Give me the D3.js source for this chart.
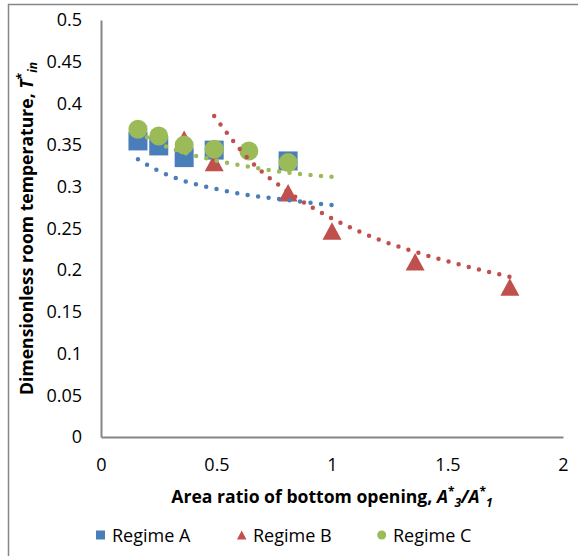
<!DOCTYPE html>
<html>
<head>
<meta charset="utf-8">
<script src="https://cdn.jsdelivr.net/npm/d3@7"></script>
<style>
  body { margin: 0; background: #fff; }
  text { font-family: "Open Sans", Lato, sans-serif; fill: #000; }
</style>
</head>
<body>
<div id="chart"></div>
<script>
// Measured points
const regimeAX = [0.16, 0.25, 0.36, 0.49, 0.81];
const regimeAY = [0.355, 0.349, 0.335, 0.344, 0.331];
const regimeBX = [0.36, 0.49, 0.81, 1.0, 1.36, 1.77];
const regimeBY = [0.357, 0.329, 0.293, 0.247, 0.210, 0.180];
const regimeCX = [0.16, 0.25, 0.36, 0.49, 0.64, 0.81];
const regimeCY = [0.369, 0.361, 0.350, 0.345, 0.343, 0.329];

// Dotted trend curves
const trendAX = [0.16, 0.25, 0.36, 0.49, 0.64, 0.81, 1.0];
const trendAY = [0.333, 0.319, 0.307, 0.298, 0.290, 0.284, 0.278];
const trendBX = [0.49, 0.64, 0.81, 1.0, 1.21, 1.36, 1.77];
const trendBY = [0.385, 0.333, 0.294, 0.262, 0.236, 0.222, 0.192];
const trendCX = [0.16, 0.25, 0.36, 0.49, 0.64, 0.81, 1.0];
const trendCY = [0.366, 0.352, 0.341, 0.332, 0.324, 0.317, 0.312];

const xTicks = [0, 0.5, 1, 1.5, 2];
const yTicks = [0, 0.05, 0.1, 0.15, 0.2, 0.25, 0.3, 0.35, 0.4, 0.45, 0.5];
const legendLabels = ["Regime A", "Regime B", "Regime C"];

const colA = "#4a7ebb", colB = "#c0504d", colC = "#9bbb59";

const W = 578, H = 556;
const margin = {top: 20, right: 15, bottom: 119, left: 101};
const width = W - margin.left - margin.right,
    height = H - margin.top - margin.bottom;

const root = d3.select("#chart")
    .append("svg")
    .attr("width", W)
    .attr("height", H);

// chart frame
root.append("rect")
    .attr("x", 8.5).attr("y", 4.5)
    .attr("width", 620).attr("height", 620)
    .attr("fill", "none")
    .attr("stroke", "#868686")
    .attr("stroke-width", 1.5);

const svg = root.append("g")
    .attr("transform", "translate(" + margin.left + "," + margin.top + ")");

const x = d3.scaleLinear().domain([0, 2]).range([0, width]);
const y = d3.scaleLinear().domain([0, 0.5]).range([height, 0]);

// X axis
const xAxis = svg.append("g")
    .attr("transform", "translate(0," + height + ")")
    .call(d3.axisBottom(x).tickValues(xTicks).tickSize(0).tickPadding(21)
        .tickFormat(d => String(d)));

// Y axis
const yAxis = svg.append("g")
    .call(d3.axisLeft(y).tickValues(yTicks).tickSize(0).tickPadding(19)
        .tickFormat(d => String(+d.toFixed(2))));

[xAxis, yAxis].forEach(function(a) {
    a.select(".domain").attr("stroke", "#868686").attr("stroke-width", 2);
    a.selectAll("text").style("font-size", "18px").attr("fill", "#000");
});

const zip = (xs, ys) => xs.map((v, i) => [v, ys[i]]);

// Markers: A then B then C
svg.append("g").selectAll("rect")
    .data(zip(regimeAX, regimeAY))
    .enter().append("rect")
    .attr("x", d => x(d[0]) - 9.5)
    .attr("y", d => y(d[1]) - 9.5)
    .attr("width", 19).attr("height", 19)
    .attr("fill", colA);

const tri = (w, h) => "M0," + (-h / 2) + "L" + (w / 2) + "," + (h / 2) + "L" + (-w / 2) + "," + (h / 2) + "Z";

svg.append("g").selectAll("path")
    .data(zip(regimeBX, regimeBY))
    .enter().append("path")
    .attr("d", tri(19, 17.5))
    .attr("transform", d => "translate(" + x(d[0]) + "," + y(d[1]) + ")")
    .attr("fill", colB);

svg.append("g").selectAll("circle")
    .data(zip(regimeCX, regimeCY))
    .enter().append("circle")
    .attr("cx", d => x(d[0]))
    .attr("cy", d => y(d[1]))
    .attr("r", 9.5)
    .attr("fill", colC);

// Dotted trend curves
const line = d3.line()
    .x(d => x(d[0]))
    .y(d => y(d[1]))
    .curve(d3.curveMonotoneX);

[[trendAX, trendAY, colA], [trendBX, trendBY, colB], [trendCX, trendCY, colC]].forEach(function(t) {
    const p = svg.append("path")
        .datum(zip(t[0], t[1]))
        .attr("d", line)
        .attr("fill", "none")
        .attr("stroke", t[2])
        .attr("stroke-width", 4.5)
        .attr("stroke-linecap", "round");
    // spread dots so one lands on each end
    const len = p.node().getTotalLength();
    const gap = (len - 0.5) / Math.round(len / 10.6);
    p.attr("stroke-dasharray", "0 " + gap);
});

// Axis titles
const xt = root.append("text")
    .attr("x", margin.left + width / 2)
    .attr("y", 503)
    .attr("text-anchor", "middle")
    .style("font-size", "17.6px")
    .style("font-weight", "bold");
xt.append("tspan").text("Area ratio of bottom opening, ");
xt.append("tspan").style("font-style", "italic").text("A");
xt.append("tspan").attr("dy", -7).style("font-size", "12px").text("*");
xt.append("tspan").attr("dy", 11).style("font-size", "12px").style("font-style", "italic").text("3");
xt.append("tspan").attr("dy", -4).style("font-style", "italic").text("/A");
xt.append("tspan").attr("dy", -7).style("font-size", "12px").text("*");
xt.append("tspan").attr("dy", 11).style("font-size", "12px").style("font-style", "italic").text("1");

const yt = root.append("text")
    .attr("transform", "translate(33," + (margin.top + height / 2) + ") rotate(-90)")
    .attr("text-anchor", "middle")
    .style("font-size", "17.6px")
    .style("font-weight", "bold");
yt.append("tspan").text("Dimensionless room temperature, ");
yt.append("tspan").style("font-style", "italic").text("T");
yt.append("tspan").attr("dy", -7).style("font-size", "12px").text("*");
yt.append("tspan").attr("dy", 11).style("font-size", "12px").style("font-style", "italic").text("in");

// Legend
const legendX = [96, 237, 377];
const leg = root.append("g").attr("transform", "translate(0,535)");
legendLabels.forEach(function(label, i) {
    const g = leg.append("g").attr("transform", "translate(" + legendX[i] + ",0)");
    if (i === 0) {
        g.append("rect").attr("x", 0).attr("y", -4.5).attr("width", 9).attr("height", 9).attr("fill", colA);
    } else if (i === 1) {
        g.append("path").attr("d", tri(9.5, 9)).attr("transform", "translate(4.7,0)").attr("fill", colB);
    } else {
        g.append("circle").attr("cx", 4.7).attr("cy", 0).attr("r", 4.5).attr("fill", colC);
    }
    g.append("text").attr("x", 16).attr("y", 6.5).style("font-size", "18px").text(label);
});
</script>
</body>
</html>
